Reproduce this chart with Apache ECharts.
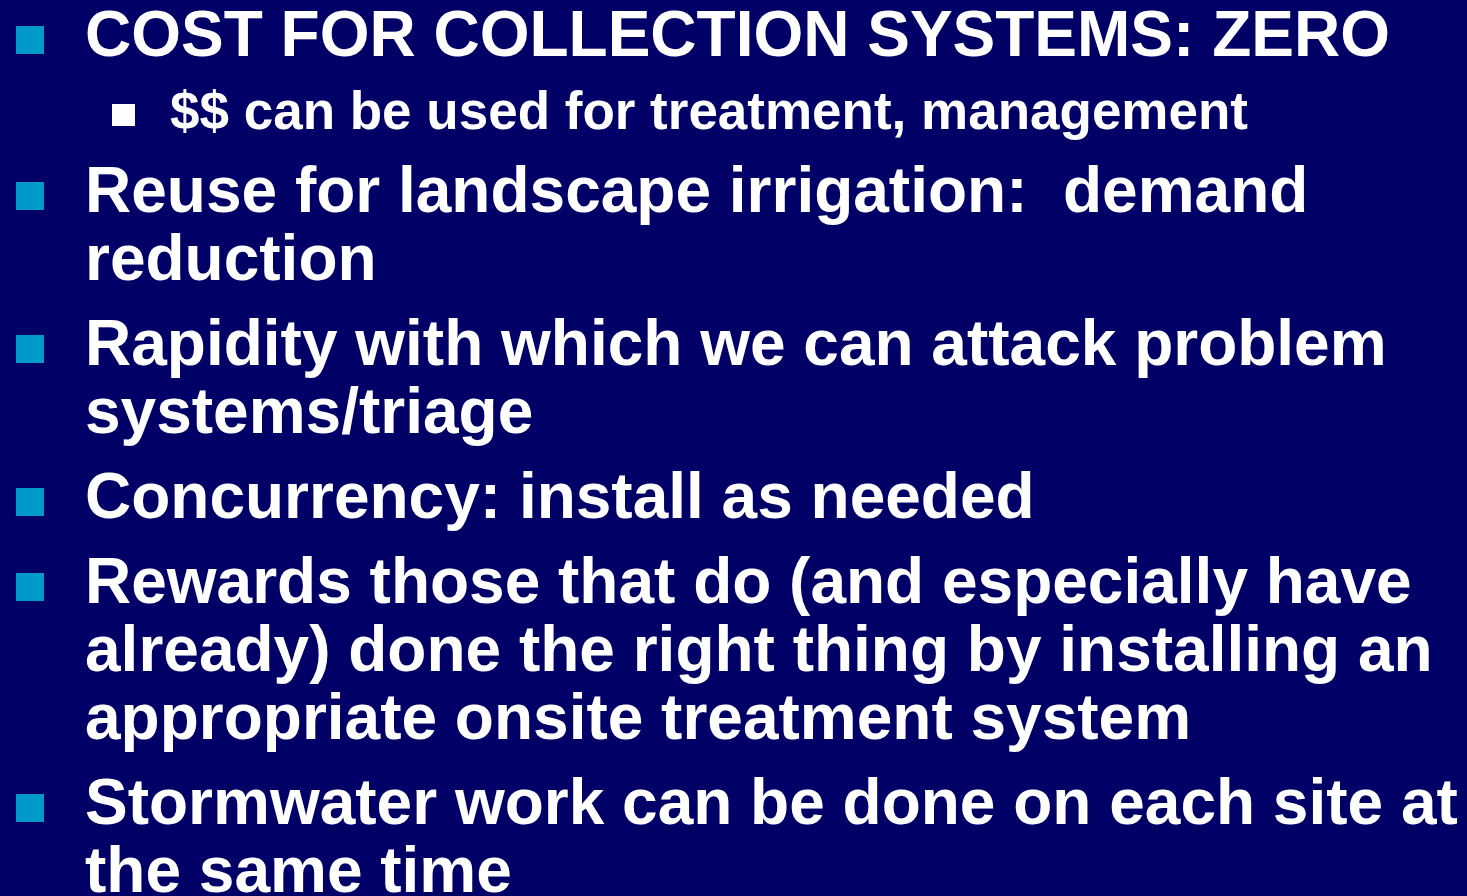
<!DOCTYPE html>
<html><head><meta charset="utf-8">
<script src="https://cdn.jsdelivr.net/npm/echarts@6/dist/echarts.min.js"></script>
<style>html,body{margin:0;padding:0;background:#000066;}#c{width:1467px;height:896px;}</style>
</head><body><div id="c"></div>
<script>
// Slide content: each bullet is a level and its wrapped lines
const bulletLevels = [1, 2, 1, 1, 1, 1, 1];
const bulletLines = [
  ["COST FOR COLLECTION SYSTEMS: ZERO"],
  ["$$ can be used for treatment, management"],
  ["Reuse for landscape irrigation:  demand", "reduction"],
  ["Rapidity with which we can attack problem", "systems/triage"],
  ["Concurrency: install as needed"],
  ["Rewards those that do (and especially have", "already) done the right thing by installing an", "appropriate onsite treatment system"],
  ["Stormwater work can be done on each site at", "the same time"]
];

const chart = echarts.init(document.getElementById('c'), null, {renderer: 'canvas'});
const FONT = '"Liberation Sans", Arial, sans-serif';
const elems = [];
const L1 = {size: 64, textX: 85, bulletX: 16, bulletW: 28, bulletH: 28, bulletUp: 30, color: '#0099CC', lineGap: 68};
const L2 = {size: 53, textX: 170, bulletX: 112, bulletW: 23, bulletH: 22, bulletUp: 24, color: '#FFFFFF', lineGap: 58};
const firstBaseline = 56;
const paraGap = {"1-1": 85, "1-2": 72, "2-1": 84};
const textShift = 5;
let baseline = firstBaseline;
bulletLines.forEach((lines, i) => {
  const lv = bulletLevels[i] === 1 ? L1 : L2;
  if (i > 0) {
    const prev = bulletLevels[i - 1];
    baseline += paraGap[prev + '-' + bulletLevels[i]];
  }
  elems.push({
    type: 'rect',
    shape: {x: lv.bulletX, y: baseline - lv.bulletUp, width: lv.bulletW, height: lv.bulletH},
    style: {fill: lv.color}
  });
  lines.forEach((t, j) => {
    if (j > 0) baseline += lv.lineGap;
    elems.push({
      type: 'text',
      x: lv.textX,
      y: baseline - lv.size * 0.3465 + textShift,
      style: {
        text: t,
        font: 'bold ' + lv.size + 'px ' + FONT,
        fill: '#FFFFFF',
        textAlign: 'left',
        verticalAlign: 'middle'
      }
    });
  });
});

chart.setOption({
  backgroundColor: '#000066',
  animation: false,
  graphic: {elements: elems}
});
</script>
</body></html>
